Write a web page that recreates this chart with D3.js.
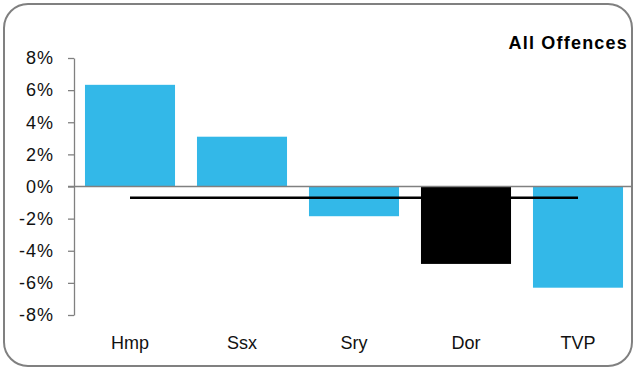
<!DOCTYPE html>
<html>
<head>
<meta charset="utf-8">
<script src="https://cdn.jsdelivr.net/npm/d3@7"></script>
<style>
  html, body { margin: 0; padding: 0; background: #fff; }
  svg { display: block; font-family: "Liberation Sans", Arial, sans-serif; }
</style>
</head>
<body>
<div id="chart"></div>
<script>
// --------------------------------------
//  Data
// --------------------------------------

const forces = ["Hmp", "Ssx", "Sry", "Dor", "TVP"];
const changes = [6.33, 3.1, -1.85, -4.82, -6.3];
const highlight = ["Dor"];
const average = -0.7;
const yTicks = [-8, -6, -4, -2, 0, 2, 4, 6, 8];
const title = "All Offences";

// --------------------------------------
//  Canvas
// --------------------------------------

const width = 634;
const height = 368;
const margin = {top: 58, right: 0, bottom: 53, left: 74};

const svg = d3.select("#chart")
  .append("svg")
    .attr("width", width)
    .attr("height", height);

// frame
svg.append("rect")
    .attr("x", 4)
    .attr("y", 4)
    .attr("width", 628)
    .attr("height", 362)
    .attr("rx", 24)
    .attr("fill", "#fff")
    .attr("stroke", "#808080")
    .attr("stroke-width", 2);

// --------------------------------------
//  Scales
// --------------------------------------

const x = d3.scaleBand()
    .domain(forces)
    .range([margin.left, width - margin.right])
    .paddingInner(0.196)
    .paddingOuter(0.098);

const y = d3.scaleLinear()
    .domain([-8, 8])
    .range([height - margin.bottom, margin.top]);

// --------------------------------------
//  Bars
// --------------------------------------

svg.append("g")
  .selectAll("rect")
  .data(forces)
  .join("rect")
    .attr("x", d => x(d))
    .attr("width", x.bandwidth())
    .attr("y", (d, i) => y(Math.max(0, changes[i])))
    .attr("height", (d, i) => Math.abs(y(changes[i]) - y(0)))
    .attr("fill", d => highlight.includes(d) ? "#000" : "#33B8E8");

// --------------------------------------
//  Axes
// --------------------------------------

const yAxis = svg.append("g")
    .attr("transform", `translate(${margin.left}, 0)`)
    .call(d3.axisLeft(y)
        .tickValues(yTicks)
        .tickSize(6)
        .tickSizeOuter(0)
        .tickPadding(14)
        .tickFormat(d => d + "%"));

yAxis.select(".domain").attr("stroke", "#808080").attr("stroke-width", 1.3);
yAxis.selectAll(".tick line").attr("stroke", "#808080").attr("stroke-width", 1.3);
yAxis.selectAll(".tick text")
    .attr("fill", "#111")
    .style("font-size", "18px")
    .style("letter-spacing", "1px");

// zero line
svg.append("line")
    .attr("x1", margin.left - 6)
    .attr("x2", 632)
    .attr("y1", y(0))
    .attr("y2", y(0))
    .attr("stroke", "#808080")
    .attr("stroke-width", 1.3);

// category labels
svg.append("g")
  .selectAll("text")
  .data(forces)
  .join("text")
    .attr("x", d => x(d) + x.bandwidth() / 2)
    .attr("y", 349)
    .attr("text-anchor", "middle")
    .attr("fill", "#111")
    .style("font-size", "18px")
    .text(d => d);

// --------------------------------------
//  Average line
// --------------------------------------

svg.append("line")
    .attr("x1", x(forces[0]) + x.bandwidth() / 2)
    .attr("x2", x(forces[forces.length - 1]) + x.bandwidth() / 2)
    .attr("y1", y(average))
    .attr("y2", y(average))
    .attr("stroke", "#000")
    .attr("stroke-width", 2.6);

// --------------------------------------
//  Title
// --------------------------------------

svg.append("text")
    .attr("x", 628)
    .attr("y", 49)
    .attr("text-anchor", "end")
    .style("font-size", "18px")
    .style("font-weight", "bold")
    .style("letter-spacing", "1.2px")
    .text(title);
</script>
</body>
</html>
